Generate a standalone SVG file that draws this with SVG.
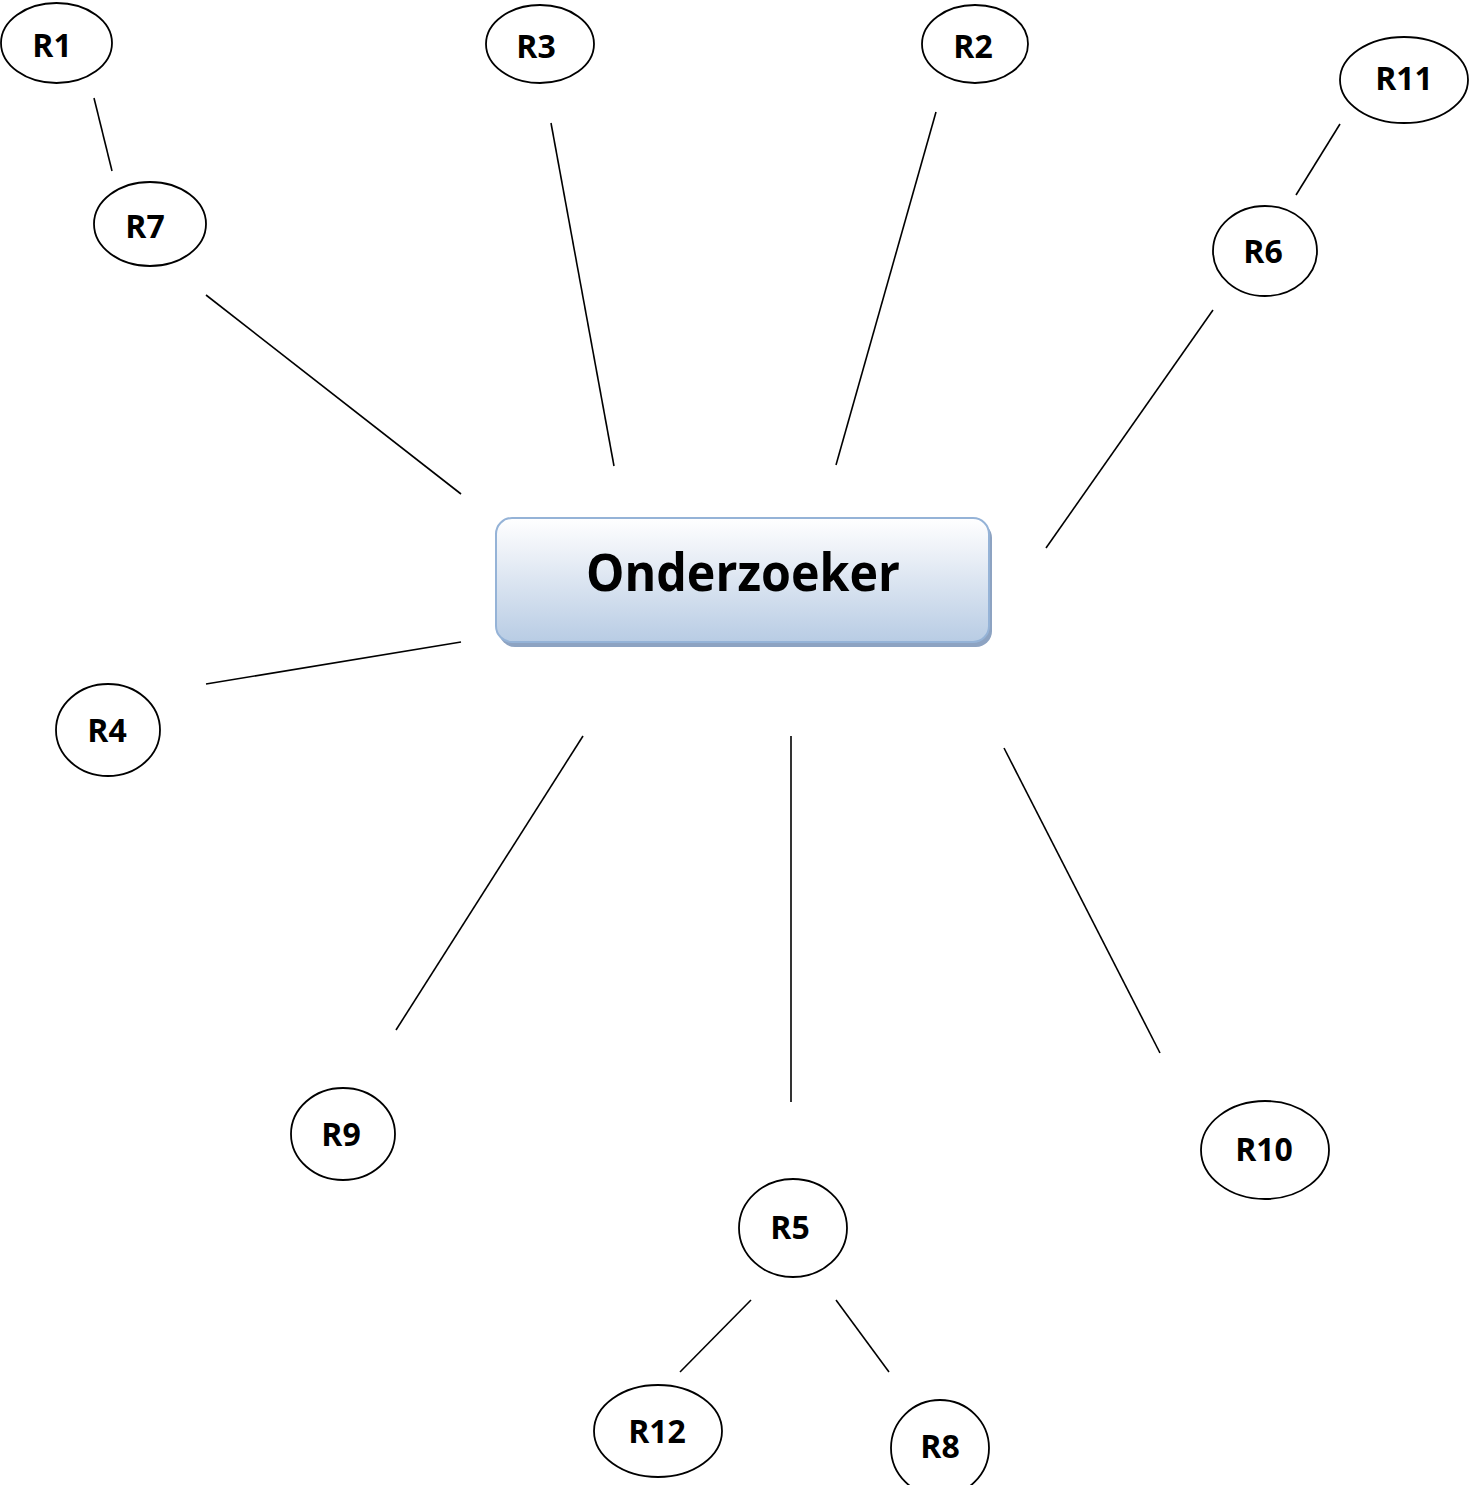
<svg xmlns="http://www.w3.org/2000/svg" width="1469" height="1485" viewBox="0 0 1469 1485">
<defs>
<linearGradient id="g" x1="0" y1="0" x2="0" y2="1">
<stop offset="0" stop-color="#ffffff"/>
<stop offset="0.25" stop-color="#eef2f8"/>
<stop offset="1" stop-color="#b8cce4"/>
</linearGradient>
<style>
.n ellipse{fill:#fff;stroke:#000;stroke-width:1.8}
.n text{font-family:"Open Sans","Noto Sans",sans-serif;font-weight:bold;font-size:32px;text-anchor:middle;fill:#000}
.c line{stroke:#000;stroke-width:1.6}
</style>
</defs>
<rect width="1469" height="1485" fill="#fff"/>
<g class="c" id="connectors">
<line x1="94" y1="98" x2="112" y2="171"/>
<line x1="206" y1="295" x2="461" y2="494"/>
<line x1="551" y1="123" x2="614" y2="466"/>
<line x1="936" y1="112" x2="836" y2="465"/>
<line x1="1340" y1="124" x2="1296" y2="195"/>
<line x1="1213" y1="310" x2="1046" y2="548"/>
<line x1="206" y1="684" x2="461" y2="642"/>
<line x1="583" y1="736" x2="396" y2="1030"/>
<line x1="791" y1="736" x2="791" y2="1102"/>
<line x1="1004" y1="748" x2="1160" y2="1053"/>
<line x1="751" y1="1300" x2="680" y2="1372"/>
<line x1="836" y1="1300" x2="889" y2="1372"/>
</g>
<g id="onderzoeker">
<rect x="499" y="522" width="493" height="125" rx="16" fill="#8da3c2"/>
<rect x="496" y="518" width="493" height="124" rx="16" fill="url(#g)" stroke="#95b3d7" stroke-width="2"/>
<text x="743" y="591" font-family="'Open Sans','Noto Sans',sans-serif" font-weight="bold" font-size="52" text-anchor="middle" textLength="314" lengthAdjust="spacingAndGlyphs">Onderzoeker</text>
</g>
<g class="n" id="r1"><ellipse cx="56.5" cy="43" rx="55.5" ry="40"/><text x="52" y="57">R1</text></g>
<g class="n" id="r3"><ellipse cx="540" cy="44" rx="54" ry="39"/><text x="536" y="58">R3</text></g>
<g class="n" id="r2"><ellipse cx="975" cy="44" rx="53" ry="39"/><text x="973" y="58">R2</text></g>
<g class="n" id="r11"><ellipse cx="1404" cy="80" rx="64" ry="43"/><text x="1404" y="90">R11</text></g>
<g class="n" id="r7"><ellipse cx="150" cy="224" rx="56" ry="42"/><text x="145" y="238">R7</text></g>
<g class="n" id="r6"><ellipse cx="1265" cy="251" rx="52" ry="45"/><text x="1263" y="263">R6</text></g>
<g class="n" id="r4"><ellipse cx="108" cy="730" rx="52" ry="46"/><text x="107" y="742">R4</text></g>
<g class="n" id="r9"><ellipse cx="343" cy="1134" rx="52" ry="46"/><text x="341" y="1146">R9</text></g>
<g class="n" id="r10"><ellipse cx="1265" cy="1150" rx="64" ry="49"/><text x="1264" y="1161">R10</text></g>
<g class="n" id="r5"><ellipse cx="793" cy="1228" rx="54" ry="49"/><text x="790" y="1239">R5</text></g>
<g class="n" id="r12"><ellipse cx="658" cy="1431" rx="64" ry="46"/><text x="657" y="1443">R12</text></g>
<g class="n" id="r8"><ellipse cx="940" cy="1448" rx="49" ry="48"/><text x="940" y="1458">R8</text></g>
</svg>
